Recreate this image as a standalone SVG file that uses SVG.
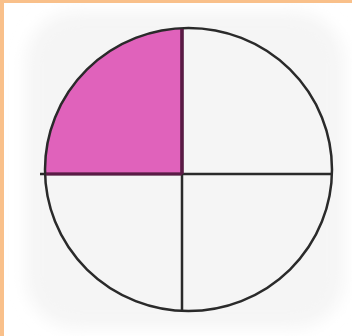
<svg xmlns="http://www.w3.org/2000/svg" width="352" height="336" viewBox="0 0 352 336">
<style>
.ln{stroke:#2a2a2a;stroke-width:2.5;fill:none}
</style>
<defs>
<filter id="soft" x="-10%" y="-10%" width="120%" height="120%"><feGaussianBlur stdDeviation="8"/></filter>
</defs>
<rect x="0" y="0" width="352" height="336" fill="#ffffff"/>
<rect x="26" y="12" width="318" height="316" rx="50" fill="#f5f5f5" filter="url(#soft)"/>
<rect x="0" y="0" width="4" height="336" fill="#f9c08a"/>
<rect x="0" y="0" width="352" height="3" fill="#f9c08a"/>
<g id="circle">
<ellipse cx="188.5" cy="169.5" rx="143.5" ry="141.5" fill="#f5f5f5"/>
<path id="shaded" d="M182,174 L45.1,174 A143.5,141.5 0 0 1 182,28.1 Z" fill="#e062bb"/>
<ellipse class="ln" cx="188.5" cy="169.5" rx="143.5" ry="141.5"/>
</g>
<g id="connectors">
<line class="ln" x1="40" y1="174" x2="332" y2="174"/>
<line class="ln" x1="182" y1="28" x2="182" y2="311" stroke-width="3"/>
<line x1="46" y1="174" x2="182" y2="174" stroke="#5a1a45" stroke-width="3"/>
<line x1="182" y1="29" x2="182" y2="174" stroke="#5a1a45" stroke-width="3.5"/>
</g>
</svg>
